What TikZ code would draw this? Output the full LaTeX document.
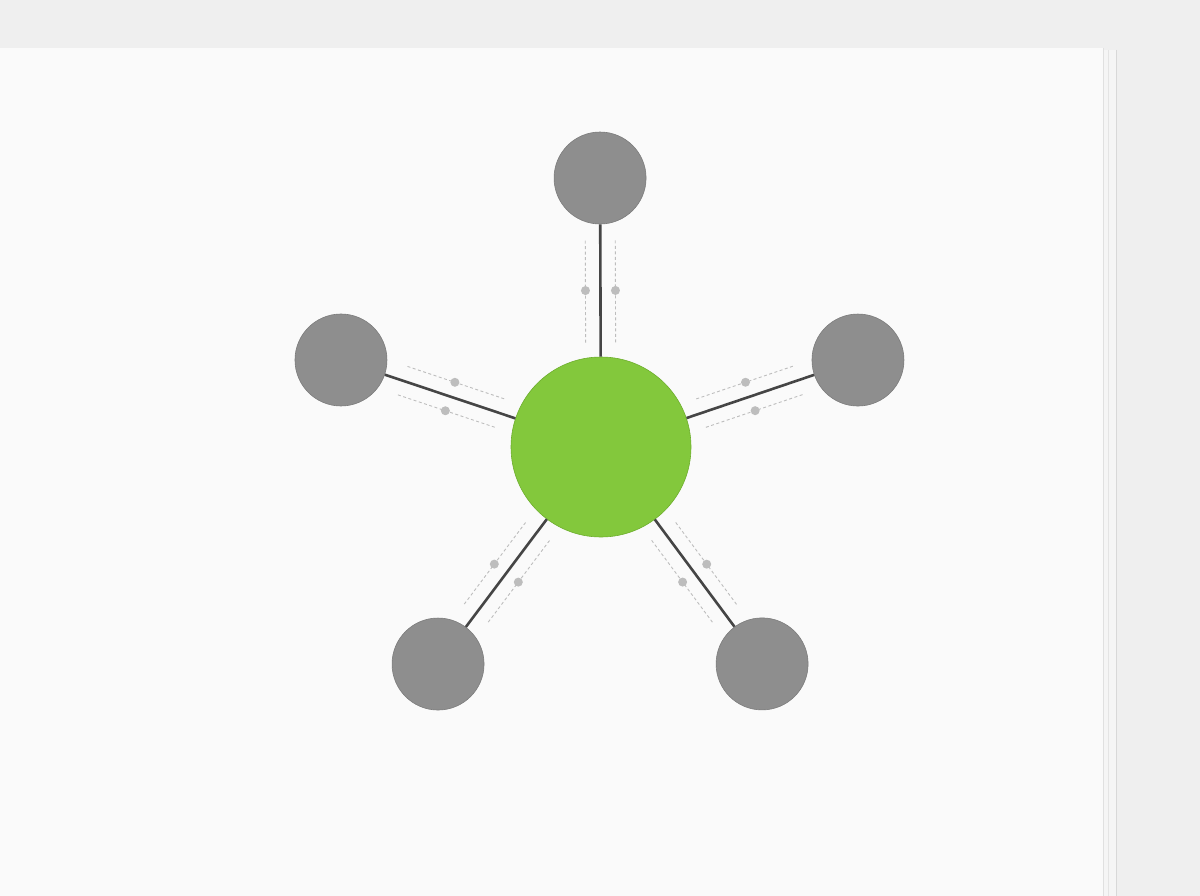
\documentclass[tikz,border=0pt]{standalone}
\usetikzlibrary{calc}
\definecolor{bgc}{HTML}{EFEFEF}
\definecolor{paperc}{HTML}{FAFAFA}
\definecolor{stripc}{HTML}{F5F5F5}
\definecolor{edgec}{HTML}{D8D8D8}
\definecolor{hubc}{HTML}{83C83C}
\definecolor{hubedge}{HTML}{6DAE2C}
\definecolor{leafc}{HTML}{8E8E8E}
\definecolor{leafedge}{HTML}{7C7C7C}
\definecolor{linkc}{HTML}{454545}
\definecolor{guidec}{HTML}{BDBDBD}
\tikzset{
  hub/.style={circle, fill=hubc, draw=hubedge, line width=0.6pt, minimum size=180pt, inner sep=0pt},
  leaf/.style={circle, fill=leafc, draw=leafedge, line width=0.6pt, minimum size=92pt, inner sep=0pt},
  link/.style={draw=linkc, line width=2.6pt},
  guide/.style={draw=guidec, line width=0.9pt, dash pattern=on 3pt off 2.5pt},
  guidedot/.style={fill=guidec}
}
\begin{document}
\begin{tikzpicture}[x=1pt,y=-1pt]
\useasboundingbox (0,0) rectangle (1200,896);
\fill[bgc] (0,0) rectangle (1200,896);
% sheet edges
\fill[stripc] (1103,50) rectangle (1116,896);
\draw[edgec, line width=0.8pt] (1116,50) -- (1116,896);
\draw[edgec!70, line width=0.6pt] (1108,50) -- (1108,896);
\fill[paperc] (0,48) rectangle (1103,896);
\draw[edgec!80, line width=0.8pt] (1103,48) -- (1103,896);
% hub
\node[hub] (c) at (601,447) {};
\foreach \n/\a/\r in {t/-90.2/269, r/-18.7/271.3, br/53.4/270.2, bl/126.9/271.4, l/198.5/274.2}{
  \node[leaf] (\n) at ($(c)+(\a:\r)$) {};
  \draw[link] (c) -- (\n);
  \pgfmathsetmacro{\mid}{(\r+44)/2}
  \foreach \s in {15,-15}{
    \draw[guide] ($(c)+(\a:\mid-52)+(\a+90:\s)$) coordinate (g1) -- ($(c)+(\a:\mid+52)+(\a+90:\s)$) coordinate (g2);
    \fill[guidedot] ($(c)+(\a:\mid)+(\a+90:\s)$) circle (4.5);
  }
}
\end{tikzpicture}
\end{document}
